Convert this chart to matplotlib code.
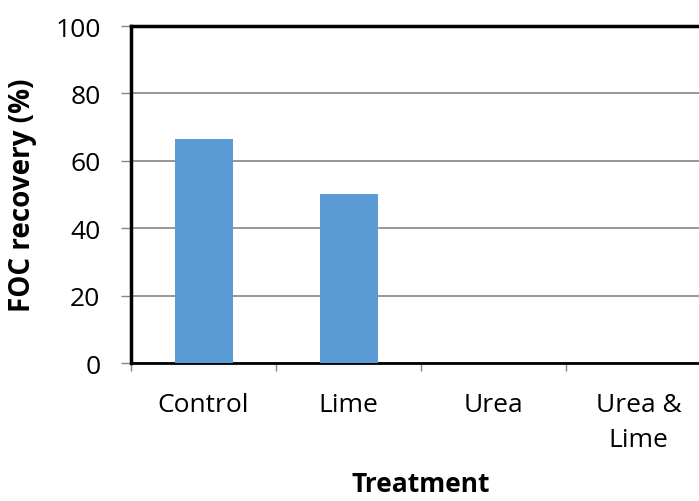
import matplotlib
matplotlib.use("Agg")
import matplotlib.pyplot as plt
import numpy as np

# FOC recovery by treatment
treatments = ['Control', 'Lime', 'Urea', 'Urea &\nLime']
recovery = [66.5, 50.1, 0, 0]

plt.rcParams['font.family'] = ['Open Sans', 'DejaVu Sans']

fig = plt.figure(figsize=(6.99, 5.02), dpi=100)
# right edge of the plot sits past the figure edge, as in the original
ax = fig.add_axes([131/699, (502-364)/502, 580/699, 337/502])

x = np.arange(len(treatments))
ax.bar(x, recovery, width=0.4, color='#5b9bd5', zorder=3)

ax.set_xlim(-0.5, len(treatments) - 0.5)
ax.set_ylim(0, 100)
ax.set_yticks(np.arange(0, 101, 20))
ax.yaxis.grid(True, color='#868686', linewidth=1.2, zorder=0)

# category labels centred, tick marks on the boundaries
ax.set_xticks(x)
ax.set_xticklabels(treatments, fontsize=19, linespacing=1.5, va='top')
ax.set_xticks(np.arange(-0.5, len(treatments)), minor=True)
ax.tick_params(axis='x', which='major', length=0, pad=21)
ax.tick_params(axis='x', which='minor', length=6, width=1, color='#868686', direction='out')
ax.tick_params(axis='y', length=7, width=1, color='#868686', labelsize=19, pad=15)

for s in ['top', 'left']:
    ax.spines[s].set_linewidth(2.5)
ax.spines['bottom'].set_linewidth(2)
ax.spines['right'].set_visible(False)
for s in ax.spines.values():
    s.set_color('black')

ax.set_ylabel('FOC recovery (%)', fontsize=20, fontweight='bold', labelpad=13)
ax.set_xlabel('Treatment', fontsize=19, fontweight='bold', labelpad=13)

plt.savefig('out.png', dpi=100)
